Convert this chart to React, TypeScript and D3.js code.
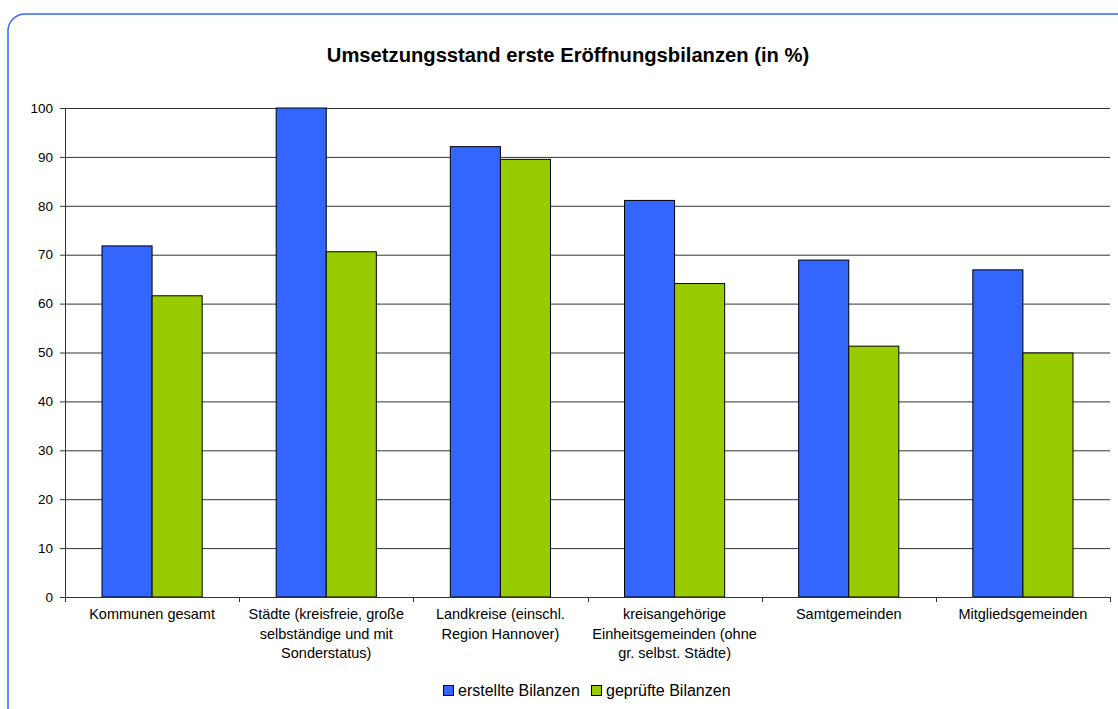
import * as React from 'react';
import * as d3 from 'd3';

// categories, wrapped like the original labels
const categories = [
    ['Kommunen gesamt'],
    ['Städte (kreisfreie, große', 'selbständige und mit', 'Sonderstatus)'],
    ['Landkreise (einschl.', 'Region Hannover)'],
    ['kreisangehörige', 'Einheitsgemeinden (ohne', 'gr. selbst. Städte)'],
    ['Samtgemeinden'],
    ['Mitgliedsgemeinden'],
]
const erstellt = [71.8, 100, 92.1, 81.1, 68.9, 66.9]
const geprueft = [61.6, 70.6, 89.5, 64.1, 51.3, 49.9]
const seriesNames = ['erstellte Bilanzen', 'geprüfte Bilanzen']
const colors = ['#3366FF', '#99CC00']
const yTicks = [0, 10, 20, 30, 40, 50, 60, 70, 80, 90, 100]

const W = 1118
const H = 709
const margin = { top: 108, right: 8, bottom: 112, left: 65 }
const font = '"Liberation Sans", Arial, sans-serif'

export default function App() {
    const innerW = W - margin.left - margin.right
    const innerH = H - margin.top - margin.bottom

    const x = d3.scaleBand<number>()
        .domain(d3.range(categories.length))
        .range([0, innerW])
        .paddingInner(0)
    const y = d3.scaleLinear().domain([0, 100]).range([innerH, 0])

    // bars take 100/174 of a group, centered
    const groupW = x.bandwidth()
    const barsW = groupW * 0.575
    const sub = d3.scaleBand<number>().domain([0, 1]).range([(groupW - barsW) / 2, (groupW + barsW) / 2])

    const data = [erstellt, geprueft]

    return (
        <svg width={W} height={H} style={{ position: 'absolute', left: 0, top: 0, background: '#fff' }} fontFamily={font}>
            <rect x={8} y={14} width={1140} height={740} rx={17} ry={17} fill="#fff" stroke="#3366FF" strokeWidth={1.5} />
            <text x={568} y={62} textAnchor="middle" fontSize={20.2} fontWeight="bold" fill="#000">
                Umsetzungsstand erste Eröffnungsbilanzen (in %)
            </text>
            <g transform={`translate(${margin.left},${margin.top})`}>
                {yTicks.map(t => (
                    <g key={t}>
                        {t > 0 && <line x1={0} x2={innerW} y1={y(t) + 0.5} y2={y(t) + 0.5} stroke="#333" />}
                        <line x1={-5} x2={0} y1={y(t) + 0.5} y2={y(t) + 0.5} stroke="#333" />
                        <text x={-12} y={y(t)} dy="0.35em" textAnchor="end" fontSize={13.5} fill="#000">{t}</text>
                    </g>
                ))}
                {categories.map((_, i) => (
                    <g key={i} transform={`translate(${x(i)},0)`}>
                        {data.map((s, j) => (
                            <rect key={j} x={sub(j)} y={y(s[i])} width={sub.bandwidth()} height={innerH - y(s[i])}
                                fill={colors[j]} stroke="#000" strokeWidth={1} />
                        ))}
                    </g>
                ))}
                <line x1={0.5} x2={0.5} y1={0} y2={innerH + 5} stroke="#333" />
                <line x1={0} x2={innerW} y1={innerH + 0.5} y2={innerH + 0.5} stroke="#333" />
                {d3.range(categories.length + 1).map(i => {
                    const xx = Math.round(i * groupW) + 0.5
                    return <line key={i} x1={xx} x2={xx} y1={innerH} y2={innerH + 5} stroke="#333" />
                })}
                {categories.map((lines, i) => (
                    <text key={i} x={(x(i) as number) + groupW / 2} y={innerH + 22} textAnchor="middle" fontSize={14.5} fill="#000">
                        {lines.map((l, k) => <tspan key={k} x={(x(i) as number) + groupW / 2} dy={k === 0 ? 0 : 19.5}>{l}</tspan>)}
                    </text>
                ))}
            </g>
            <g transform="translate(443,685)">
                <rect x={0.5} y={0.5} width={10} height={10} fill={colors[0]} stroke="#000" />
                <text x={15} y={11} fontSize={16} fill="#000">{seriesNames[0]}</text>
                <rect x={148.5} y={0.5} width={10} height={10} fill={colors[1]} stroke="#000" />
                <text x={163} y={11} fontSize={16} fill="#000">{seriesNames[1]}</text>
            </g>
        </svg>
    )
}
